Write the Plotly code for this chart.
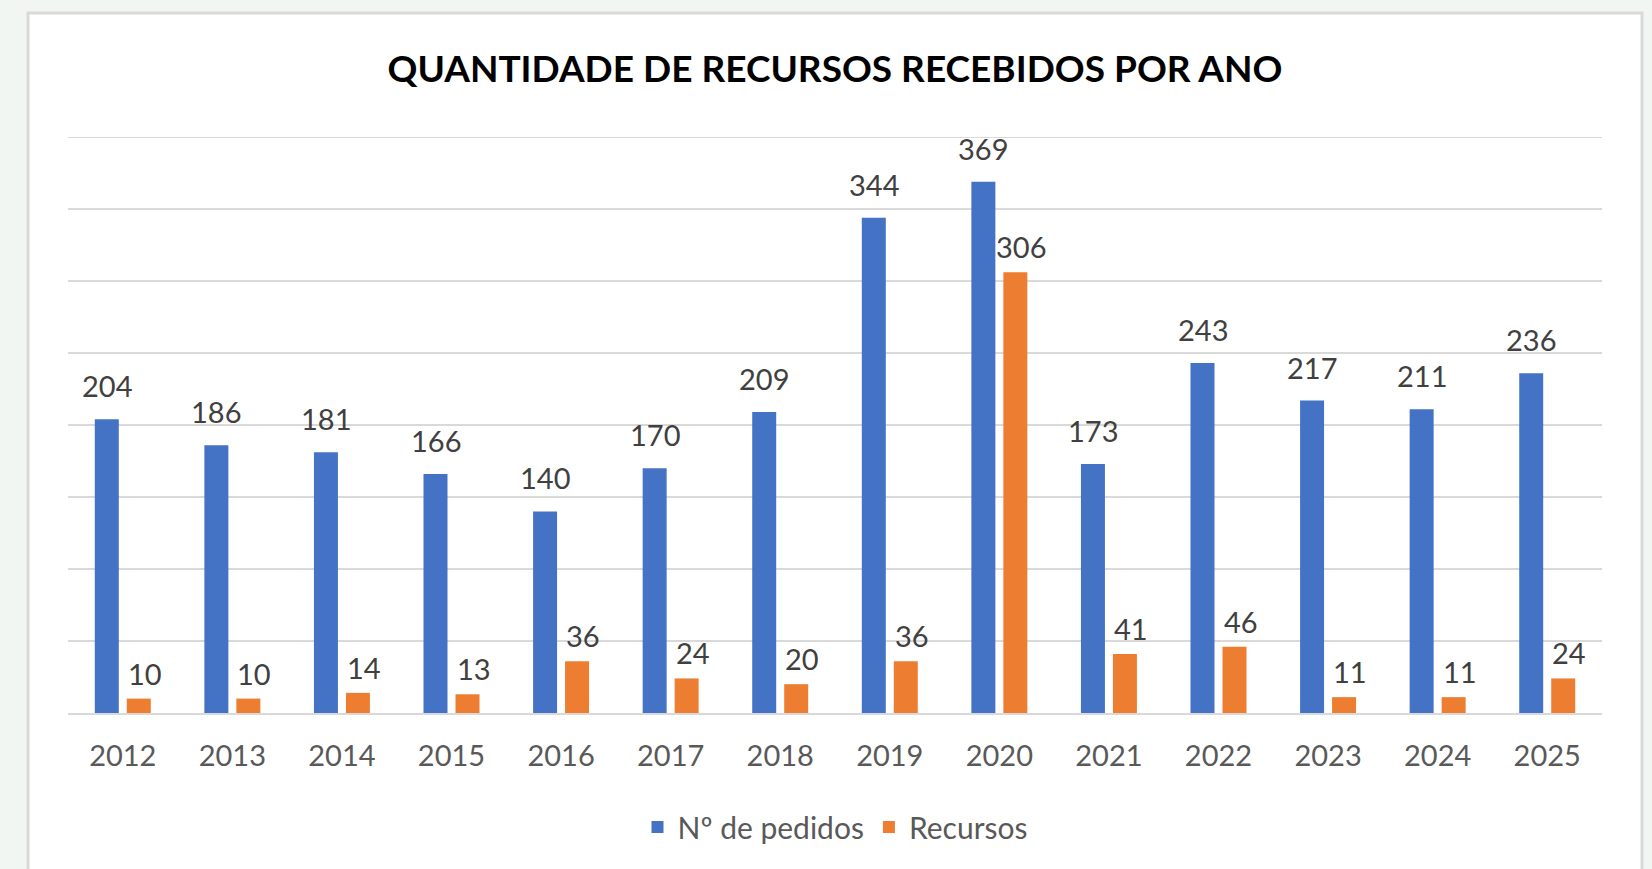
import plotly.graph_objects as go

years = ["2012", "2013", "2014", "2015", "2016", "2017", "2018", "2019",
         "2020", "2021", "2022", "2023", "2024", "2025"]
pedidos = [204, 186, 181, 166, 140, 170, 209, 344, 369, 173, 243, 217, 211, 236]
recursos = [10, 10, 14, 13, 36, 24, 20, 36, 306, 41, 46, 11, 11, 24]
series_names = ["Nº de pedidos", "Recursos"]
title_text = "QUANTIDADE DE RECURSOS RECEBIDOS POR ANO"
y_max = 400

BLUE = "#4472C4"
ORANGE = "#ED7D31"
FONT = "Lato"
GRID = "#d9d9d9"

fig = go.Figure()
fig.add_trace(go.Bar(x=years, y=pedidos, name=series_names[0],
                     marker=dict(color=BLUE, line=dict(width=0))))
fig.add_trace(go.Bar(x=years, y=recursos, name=series_names[1],
                     marker=dict(color=ORANGE, line=dict(width=0))))

annotations = []
for i, v in enumerate(pedidos):
    annotations.append(dict(x=i, y=v, xref="x", yref="y", text=str(v),
                            showarrow=False, xshift=-16, yshift=14,
                            yanchor="bottom",
                            font=dict(family=FONT, size=29, color="#404040")))
for i, v in enumerate(recursos):
    annotations.append(dict(x=i, y=v, xref="x", yref="y", text=str(v),
                            showarrow=False, xshift=22, yshift=6,
                            yanchor="bottom",
                            font=dict(family=FONT, size=29, color="#404040")))

fig.update_layout(
    width=1652, height=869,
    margin=dict(l=68, r=50, t=137, b=156),
    paper_bgcolor="#f2f6f3",
    plot_bgcolor="rgba(0,0,0,0)",
    barmode="group",
    bargap=0.416,
    bargroupgap=0.25,
    title=dict(text="<b>" + title_text + "</b>", x=0.5, xref="paper",
               xanchor="center", y=1 - 69 / 869, yref="container",
               yanchor="middle",
               font=dict(family=FONT, size=37, color="#000000")),
    showlegend=True,
    legend=dict(orientation="h", x=0.5, xanchor="center", y=-0.198,
                yanchor="middle", font=dict(family=FONT, size=30, color="#595959"),
                itemwidth=30, tracegroupgap=0, bgcolor="rgba(0,0,0,0)"),
    xaxis=dict(type="category", range=[-0.5, len(years) - 0.5],
               showgrid=False, showline=True,
               linecolor=GRID, linewidth=2,
               ticks="", tickfont=dict(family=FONT, size=29, color="#595959"),
               ticklabelstandoff=16, fixedrange=True),
    yaxis=dict(range=[0, y_max], dtick=50, showgrid=True, gridcolor=GRID,
               gridwidth=2, showticklabels=False, zeroline=False,
               showline=False, fixedrange=True),
    annotations=annotations,
    shapes=[dict(type="rect", xref="paper", yref="paper",
                 x0=(28 - 68) / 1534, x1=(1642 - 68) / 1534,
                 y0=(713 - 900) / 576, y1=(713 - 13) / 576,
                 fillcolor="#ffffff", line=dict(color=GRID, width=3),
                 layer="below"),
            dict(type="line", xref="paper", yref="y", x0=0, x1=1,
                 y0=y_max, y1=y_max, line=dict(color=GRID, width=2),
                 layer="below")],
)

fig.write_html("out.html", config={"displayModeBar": False},
               post_script="document.body.style.margin='0';document.body.style.overflow='hidden';")
